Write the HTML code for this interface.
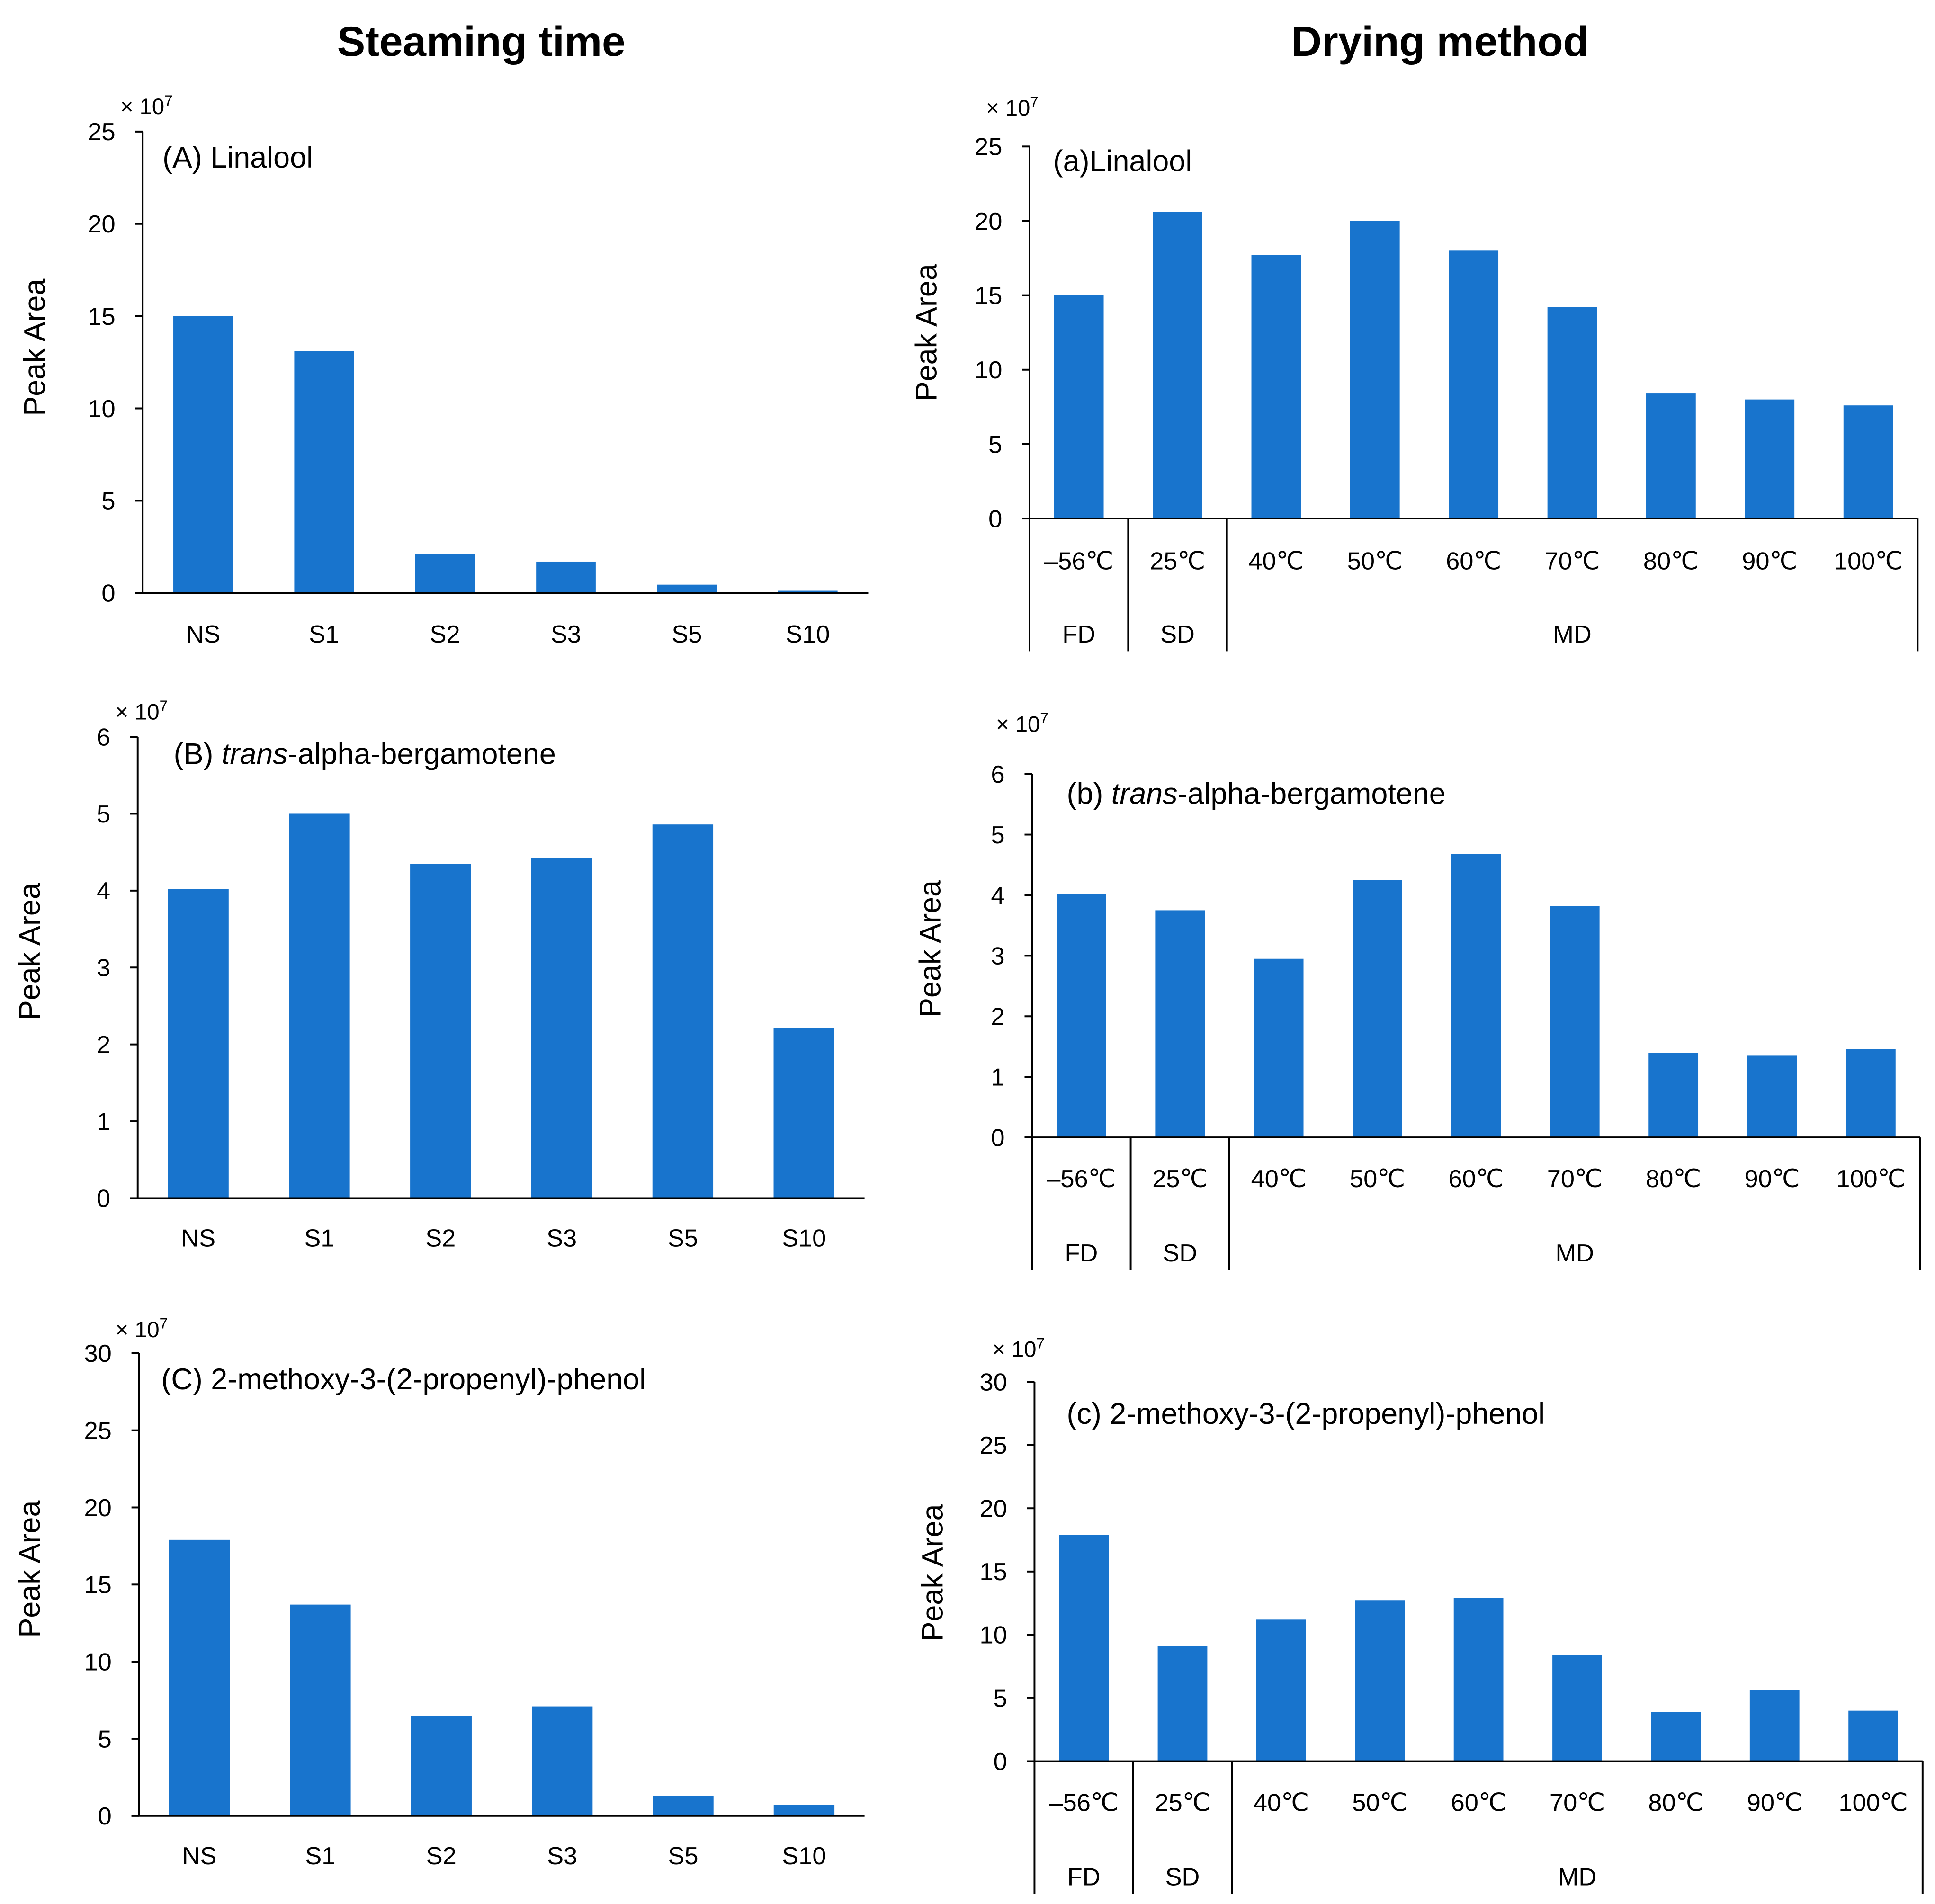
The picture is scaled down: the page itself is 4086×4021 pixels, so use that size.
<!DOCTYPE html>
<html><head><meta charset="utf-8"><style>
html,body{margin:0;padding:0;background:#fff}
svg{display:block;font-family:"Liberation Sans",sans-serif}
</style></head><body>
<svg id="chart" width="4086" height="4021" viewBox="0 0 1560 1535" xmlns="http://www.w3.org/2000/svg">
<rect width="1560" height="1535" fill="#fff"/>
<text x="388" y="45" font-size="34" font-weight="bold" text-anchor="middle">Steaming time</text>
<text x="1161" y="45" font-size="34" font-weight="bold" text-anchor="middle">Drying method</text>
</svg>
<script>
const steamCats = ["NS","S1","S2","S3","S5","S10"];
const dryCats = ["\u201356\u2103","25\u2103","40\u2103","50\u2103","60\u2103","70\u2103","80\u2103","90\u2103","100\u2103"];
const dryGroups = ["FD","SD","MD"];
const linaloolSteam = [15,13.1,2.1,1.7,0.45,0.12];
const bergSteam = [4.02,5.0,4.35,4.43,4.86,2.21];
const phenolSteam = [17.9,13.7,6.5,7.1,1.3,0.7];
const linaloolDry = [15,20.6,17.7,20,18,14.2,8.4,8,7.6];
const bergDry = [4.02,3.75,2.95,4.25,4.68,3.82,1.4,1.35,1.46];
const phenolDry = [17.9,9.1,11.2,12.7,12.9,8.4,3.9,5.6,4.0];
const ticks25 = [0,5,10,15,20,25];
const ticks6 = [0,1,2,3,4,5,6];
const ticks30 = [0,5,10,15,20,25,30];

const NS="http://www.w3.org/2000/svg";
const svg=document.getElementById('chart');
function mk(tag,attrs,parent){const e=document.createElementNS(NS,tag);for(const k in attrs)e.setAttribute(k,attrs[k]);(parent||svg).appendChild(e);return e;}

function panel(p){
  const g=mk('g',{});
  
  
  const ymax=p.ticks[p.ticks.length-1];
  const y=v=>p.y0-(v/ymax)*(p.y0-p.ytop);
  const n=p.cats.length;
  const bw=(p.x1-p.x0)/n;
  const x=i=>p.x0+bw*(i+0.5);
  // bars
  p.vals.forEach((v,i)=>{
    const r=mk('rect',{x:x(i)-p.barW/2,y:y(v),width:p.barW,height:p.y0-y(v),fill:'#1874CD'},g);
    
    
  });
  // axes
  const ya=mk('line',{x1:p.x0,y1:p.ytop,x2:p.x0,y2:p.y0,stroke:'#000','stroke-width':1.5},g);
  
  
  const xa=mk('line',{x1:p.x0-6,y1:p.y0,x2:p.x1,y2:p.y0,stroke:'#000','stroke-width':1.5},g);
  
  
  p.ticks.forEach(t=>{
    mk('line',{x1:p.x0-6,y1:y(t),x2:p.x0,y2:y(t),stroke:'#000','stroke-width':1.5},g);
    const tl=mk('text',{x:p.x0-22,y:y(t)+7,'font-size':20,'text-anchor':'end'},g);
    
    
    tl.textContent=t;
  });
  p.cats.forEach((c,i)=>{
    const tl=mk('text',{x:x(i),y:p.labY,'font-size':20,'text-anchor':'middle'},g);
    
    
    tl.textContent=c;
  });
  if(p.groups){
    const bottom=p.y0+107;
    [0,1,2,n].forEach(k=>{
      mk('line',{x1:p.x0+bw*k,y1:p.y0,x2:p.x0+bw*k,y2:bottom,stroke:'#000','stroke-width':1.5},g);
    });
    const centers=[p.x0+bw*0.5,p.x0+bw*1.5,p.x0+bw*(2+(n-2)/2)];
    p.groups.forEach((gname,i)=>{
      const t=mk('text',{x:centers[i],y:p.y0+100,'font-size':20,'text-anchor':'middle'},g);
      
      
      t.textContent=gname;
    });
  }
  const mul=mk('text',{x:p.mulX,y:p.mulY,'font-size':18},g);
  
  
  mul.innerHTML='× 10<tspan font-size="12" dy="-7">7</tspan>';
  const ti=mk('text',{x:p.titleX,y:p.titleY,'font-size':24},g);
  
  
  ti.innerHTML=p.title;
  const yt=mk('text',{x:0,y:0,'font-size':24,'text-anchor':'middle',transform:`translate(${p.ytX},${p.ytY}) rotate(-90)`},g);
  
  
  yt.textContent='Peak Area';
}

panel({name:'chart-A-linalool',cats:steamCats,vals:linaloolSteam,ticks:ticks25,x0:115,x1:700,y0:478,ytop:106,barW:48,labY:518,mulX:97,mulY:92,titleX:131,titleY:135,title:'(A) Linalool',ytX:36,ytY:280});
panel({name:'chart-B-bergamotene',cats:steamCats,vals:bergSteam,ticks:ticks6,x0:111,x1:697,y0:966,ytop:594,barW:49,labY:1005,mulX:93,mulY:580,titleX:140,titleY:616,title:'(B) <tspan font-style="italic">trans</tspan>-alpha-bergamotene',ytX:32,ytY:767});
panel({name:'chart-C-phenol',cats:steamCats,vals:phenolSteam,ticks:ticks30,x0:112,x1:697,y0:1464,ytop:1091,barW:49,labY:1503,mulX:93,mulY:1078,titleX:130,titleY:1120,title:'(C) 2-methoxy-3-(2-propenyl)-phenol',ytX:32,ytY:1265});
panel({name:'chart-a-linalool',cats:dryCats,vals:linaloolDry,ticks:ticks25,groups:dryGroups,x0:830,x1:1546,y0:418,ytop:118,barW:40,labY:459,mulX:795,mulY:93,titleX:849,titleY:138,title:'(a)Linalool',ytX:755,ytY:268});
panel({name:'chart-b-bergamotene',cats:dryCats,vals:bergDry,ticks:ticks6,groups:dryGroups,x0:832,x1:1548,y0:917,ytop:624,barW:40,labY:957,mulX:803,mulY:590,titleX:860,titleY:648,title:'(b) <tspan font-style="italic">trans</tspan>-alpha-bergamotene',ytX:758,ytY:765});
panel({name:'chart-c-phenol',cats:dryCats,vals:phenolDry,ticks:ticks30,groups:dryGroups,x0:834,x1:1550,y0:1420,ytop:1114,barW:40,labY:1460,mulX:800,mulY:1094,titleX:860,titleY:1148,title:'(c) 2-methoxy-3-(2-propenyl)-phenol',ytX:760,ytY:1268});
</script>
</body></html>
